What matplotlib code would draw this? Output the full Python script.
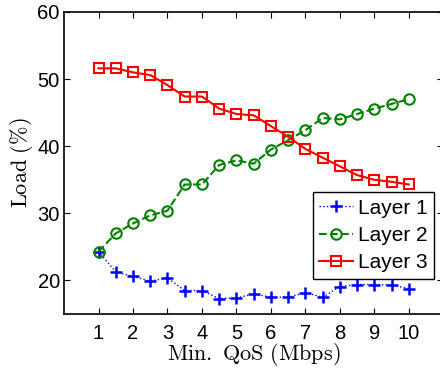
import matplotlib
matplotlib.use("Agg")
import matplotlib.pyplot as plt

# valores
qos = [1, 1.5, 2, 2.5, 3, 3.5, 4, 4.5, 5, 5.5, 6, 6.5, 7, 7.5, 8, 8.5, 9, 9.5, 10]
layer1 = [24.3, 21.3, 20.6, 19.9, 20.4, 18.5, 18.5, 17.3, 17.4, 18.0,
          17.5, 17.5, 18.2, 17.5, 19.1, 19.4, 19.4, 19.3, 18.8]
layer2 = [24.3, 27.0, 28.5, 29.7, 30.4, 34.3, 34.3, 37.2, 37.9, 37.4,
          39.5, 40.9, 42.4, 44.2, 44.0, 44.8, 45.6, 46.3, 47.0]
layer3 = [51.6, 51.6, 51.0, 50.6, 49.1, 47.4, 47.4, 45.6, 44.8, 44.6,
          43.0, 41.4, 39.6, 38.3, 37.0, 35.7, 35.0, 34.7, 34.3]
labels = ["Layer 1", "Layer 2", "Layer 3"]
xticks = [1, 2, 3, 4, 5, 6, 7, 8, 9, 10]
yticks = [20, 30, 40, 50, 60]

plt.rcParams['font.family'] = ['Liberation Sans', 'DejaVu Sans']
plt.rcParams['mathtext.fontset'] = 'cm'

fig = plt.figure(figsize=(4.4, 3.73), dpi=100)
ax = fig.add_axes([0.1455, 0.158, 0.862, 0.81])

ax.plot(qos, layer1, ':', color='b', marker='+', ms=9, mew=1.8, lw=1, label=labels[0])
ax.plot(qos, layer2, '--', color=(0, 0.5, 0), marker='o', ms=7.5, mew=1.5,
        mfc='none', lw=1.5, label=labels[1])
ax.plot(qos, layer3, '-', color='r', marker='s', ms=7, mew=1.5,
        mfc='none', lw=1.5, label=labels[2])

ax.set_xlim(0, 11)
ax.set_ylim(15, 60)
ax.set_xticks(xticks)
ax.set_yticks(yticks)
ax.tick_params(direction='in', top=True, right=True, length=4, labelsize=14.5)
ax.tick_params(axis='x', pad=7)
ax.tick_params(axis='y', pad=3)
for s in ax.spines.values():
    s.set_linewidth(1.2)

ax.set_xlabel(r'$\mathrm{Min.\ QoS\ (Mbps)}$', fontsize=16, labelpad=-1)
ax.set_ylabel(r'$\mathrm{Load\ (\%)}$', fontsize=16, labelpad=2)

leg = ax.legend(loc='lower right', bbox_to_anchor=(0.976, 0.116), borderaxespad=0,
                fontsize=15, fancybox=False, edgecolor='k', framealpha=1,
                labelspacing=0.4, handlelength=1.6, handletextpad=0.25,
                borderpad=0.32)
leg.get_frame().set_linewidth(1.0)

fig.savefig('out.png', dpi=100)
